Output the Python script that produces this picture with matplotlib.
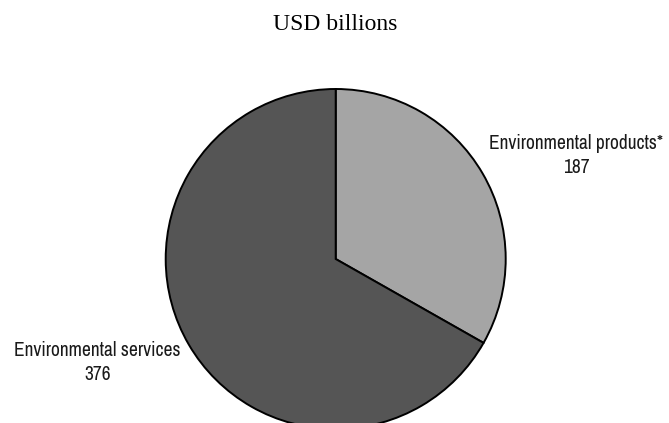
import matplotlib
matplotlib.use("Agg")
import matplotlib.pyplot as plt

categories = ["Environmental products*", "Environmental services"]
values = [187, 376]
colors = ["#a5a5a5", "#555555"]
title = "USD billions"

W, H = 669, 423
fig = plt.figure(figsize=(W / 100, H / 100), dpi=100)
ax = fig.add_axes([0, 0, 1, 1])
R = 170.0
cx, cy = 335.7, H - 259.0
ax.pie(values, colors=colors, startangle=90, counterclock=False, radius=1,
       wedgeprops=dict(edgecolor="black", linewidth=1.4))
ax.set_aspect("auto")
ax.set_xlim(-cx / R, (W - cx) / R)
ax.set_ylim(-cy / R, (H - cy) / R)
ax.axis("off")

label_pos = [((576.5 - cx) / R, (H - 155.5 - cy) / R), ((97.5 - cx) / R, (H - 362.5 - cy) / R)]
for cat, v, (x, y) in zip(categories, values, label_pos):
    ax.text(x, y, f"{cat}\n{v}", ha="center", va="center", fontsize=14,
            family=["Archivo Narrow", "DejaVu Sans"], color="#1a1a1a", linespacing=1.32)

fig.text(335 / W, 1 - 25 / H, title, ha="center", va="center", fontsize=17,
         family=["Liberation Serif", "DejaVu Serif"], color="black")
fig.savefig("out.png", dpi=100)
